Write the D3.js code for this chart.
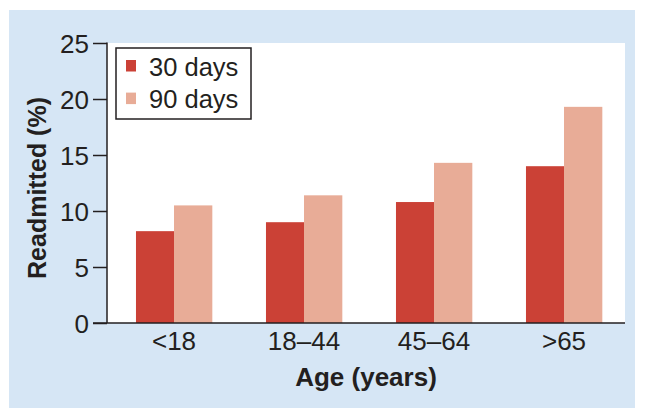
<!DOCTYPE html>
<html>
<head>
<meta charset="utf-8">
<script src="https://cdn.jsdelivr.net/npm/d3@7"></script>
<style>
  html, body { margin: 0; padding: 0; background: #fff; }
  text { font-family: "Liberation Sans", Arial, Helvetica, sans-serif; fill: #231f20; }
</style>
</head>
<body>
<div id="container"></div>
<script>
const width = 645;
const height = 418;

// data
const ageGroups = ["<18", "18\u201344", "45\u201364", ">65"];
const seriesNames = ["30 days", "90 days"];
const days30 = [8.2, 9.0, 10.8, 14.0];
const days90 = [10.5, 11.4, 14.3, 19.3];
const yTicks = [0, 5, 10, 15, 20, 25];

const colors = ["#cb4136", "#e8ac97"];

const plot = {left: 107, right: 625, top: 43, bottom: 323};

const svg = d3.create("svg")
    .attr("width", width)
    .attr("height", height);

// light blue panel
svg.append("rect")
    .attr("x", 9)
    .attr("y", 10)
    .attr("width", 626)
    .attr("height", 398)
    .attr("fill", "#d6e6f5");

// white plot area
svg.append("rect")
    .attr("x", plot.left)
    .attr("y", plot.top)
    .attr("width", plot.right - plot.left)
    .attr("height", plot.bottom - plot.top)
    .attr("fill", "#ffffff");

const y = d3.scaleLinear()
    .domain([0, 25])
    .range([plot.bottom, plot.top]);

const x0 = d3.scaleBand()
    .domain(ageGroups)
    .range([109, 629])
    .paddingInner(0.415)
    .paddingOuter(0.2075);

const x1 = d3.scaleBand()
    .domain(seriesNames)
    .range([0, x0.bandwidth()]);

const rows = ageGroups.map((g, i) => ({group: g, values: [days30[i], days90[i]]}));

svg.append("g")
    .selectAll("g")
    .data(rows)
    .join("g")
    .attr("transform", d => `translate(${x0(d.group)},0)`)
    .selectAll("rect")
    .data(d => d.values.map((v, k) => ({name: seriesNames[k], value: v, k})))
    .join("rect")
    .attr("x", d => x1(d.name))
    .attr("y", d => y(d.value))
    .attr("width", x1.bandwidth() + 0.3)
    .attr("height", d => y(0) - y(d.value))
    .attr("fill", d => colors[d.k]);

// y axis
const yAxis = svg.append("g")
    .attr("transform", `translate(${plot.left},0)`)
    .call(d3.axisLeft(y).tickValues(yTicks).tickSize(14).tickPadding(4));
yAxis.select(".domain").remove();
yAxis.selectAll(".tick line").attr("stroke", "#231f20").attr("stroke-width", 1.5);
yAxis.selectAll(".tick text")
    .attr("font-size", "26px")
    .attr("font-family", "Liberation Sans, Arial, sans-serif")
    .attr("fill", "#231f20")
    .attr("dy", "0.36em");

svg.append("line")
    .attr("x1", plot.left).attr("x2", plot.left)
    .attr("y1", plot.top - 0.5).attr("y2", plot.bottom)
    .attr("stroke", "#231f20").attr("stroke-width", 1.5);

// x axis
const xAxis = svg.append("g")
    .attr("transform", `translate(0,${plot.bottom})`)
    .call(d3.axisBottom(x0).tickSize(0).tickPadding(9));
xAxis.select(".domain").remove();
xAxis.selectAll(".tick text")
    .attr("font-size", "26px")
    .attr("font-family", "Liberation Sans, Arial, sans-serif")
    .attr("fill", "#231f20")
    .attr("dy", "0.71em");

svg.append("line")
    .attr("x1", 93).attr("x2", plot.right)
    .attr("y1", plot.bottom).attr("y2", plot.bottom)
    .attr("stroke", "#231f20").attr("stroke-width", 1.5);

// axis titles
svg.append("text")
    .attr("x", (plot.left + plot.right) / 2)
    .attr("y", 386)
    .attr("text-anchor", "middle")
    .attr("font-size", "26px")
    .attr("font-weight", "bold")
    .text("Age (years)");

svg.append("text")
    .attr("transform", "translate(46,188) rotate(-90)")
    .attr("text-anchor", "middle")
    .attr("font-size", "25px")
    .attr("font-weight", "bold")
    .text("Readmitted (%)");

// legend
const legend = svg.append("g").attr("transform", "translate(116,48)");
legend.append("rect")
    .attr("width", 135)
    .attr("height", 71)
    .attr("fill", "#ffffff")
    .attr("stroke", "#231f20")
    .attr("stroke-width", 1.5);

const legendItems = legend.selectAll("g.item")
    .data(seriesNames)
    .join("g")
    .attr("class", "item")
    .attr("transform", (_, i) => `translate(0,${i * 32.6})`);

legendItems.append("rect")
    .attr("x", 10)
    .attr("y", 12)
    .attr("width", 10)
    .attr("height", 11.5)
    .attr("fill", (_, i) => colors[i]);

legendItems.append("text")
    .attr("x", 33)
    .attr("y", 27.5)
    .attr("font-size", "25.5px")
    .text(d => d);

d3.select("#container").append(() => svg.node());
</script>
</body>
</html>
